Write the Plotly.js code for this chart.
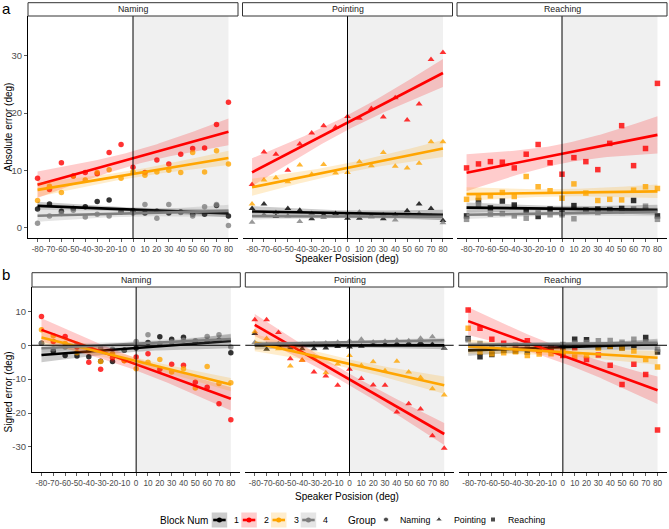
<!DOCTYPE html>
<html><head><meta charset="utf-8">
<script src="https://cdn.plot.ly/plotly-3.0.1.min.js"></script>
<style>html,body{margin:0;padding:0;background:#fff}</style>
</head><body><div id="chart" style="width:669px;height:529px"></div>
<script>
// ---------------- data ----------------
const XPOS = [-80,-70,-60,-50,-40,-30,-20,-10,0,10,20,30,40,50,60,70,80];
const GROUPS = ['Naming','Pointing','Reaching'];
const BLOCKS = ['1','2','3','4'];
const BLOCK_COLORS = ['#000000','#FF0000','#FFA500','#7F7F7F'];
const BAND_COLORS = ['rgba(0,0,0,0.2)','rgba(255,0,0,0.2)','rgba(255,165,0,0.2)','rgba(127,127,127,0.2)'];
const GROUP_SYMBOLS = ['circle','triangle-up','square'];
const ABS_TICKS = [0,10,20,30];
const SIGNED_TICKS = [-30,-20,-10,0,10];

// Absolute error (panel a)
const absNaming1 = [3.2,4.1,2.8,3.3,3.6,4.5,4.8,2.7,2.9,2.5,2.8,2.5,2.7,2.3,2.3,3.8,2.0];
const absNaming2 = [8.6,6.6,11.3,9.0,9.6,9.4,13.1,14.5,10.5,9.6,11.8,11.1,12.8,13.8,13.9,18.0,21.9];
const absNaming3 = [4.7,7.2,6.1,9.0,8.3,9.6,10.1,8.6,9.7,9.1,9.7,10.0,9.6,13.1,9.7,13.4,11.1];
const absNaming4 = [0.7,2.0,2.4,3.0,1.8,2.3,2.0,2.8,2.5,4.0,1.6,4.0,2.6,2.0,3.6,4.0,0.3];
const absPointing1 = [3.3,4.1,1.9,3.3,3.0,1.5,2.2,2.4,1.6,1.6,2.0,1.5,2.2,2.9,4.1,3.3,1.2];
const absPointing2 = [7.5,13.2,12.8,10.0,14.6,16.5,17.8,17.5,19.4,19.1,20.8,19.3,22.7,18.8,21.6,29.4,30.6];
const absPointing3 = [4.1,8.3,8.7,8.0,10.9,9.3,11.0,9.5,9.6,11.5,10.8,13.1,10.7,10.4,11.2,15.0,15.0];
const absPointing4 = [0.9,2.2,2.6,2.0,1.0,2.4,1.7,2.0,2.2,2.7,1.8,2.2,1.3,2.0,2.4,2.0,0.8];
const absReaching1 = [2.0,4.7,3.4,4.6,3.9,3.0,1.9,3.2,2.5,3.8,3.0,3.2,3.1,3.3,4.7,3.0,2.0];
const absReaching2 = [10.4,11.1,11.5,11.4,10.4,12.8,14.5,11.3,9.3,12.2,11.5,10.1,14.7,17.8,10.8,13.8,25.2];
const absReaching3 = [4.9,5.2,5.5,6.1,5.4,8.9,7.1,6.4,5.1,7.6,6.0,4.7,4.9,4.8,6.5,7.1,6.8];
const absReaching4 = [1.4,4.0,2.3,2.4,2.0,1.6,2.5,2.2,2.2,1.5,2.8,2.6,3.0,2.9,3.2,3.7,1.4];

// Signed error (panel b)
const sgnNaming1 = [0.6,-1.8,-3.0,-3.2,-3.4,-4.7,-4.8,-1.5,-0.8,0.8,2.5,1.8,2.4,0.9,1.2,1.5,-2.2];
const sgnNaming2 = [8.5,1.1,2.6,-0.5,-5.0,-7.1,-3.7,-4.5,-3.5,-2.5,-7.1,-5.6,-5.9,-10.9,-12.4,-17.3,-22.0];
const sgnNaming3 = [4.6,2.8,0.5,-2.2,-1.0,-4.8,-2.5,-4.6,-6.9,-5.0,-4.2,-7.9,-6.9,-12.6,-6.3,-11.3,-11.1];
const sgnNaming4 = [0.6,-1.0,-0.5,0.2,-1.5,-0.8,-1.2,-1.4,1.1,3.1,0.5,1.0,1.5,1.3,2.6,3.1,-0.5];
const sgnPointing1 = [3.5,-1.2,-0.3,-0.8,-1.0,-1.0,-0.8,-0.4,-0.5,-0.3,0.2,0.3,0.5,0.6,0.8,0.3,-0.9];
const sgnPointing2 = [7.5,7.5,3.8,-4.0,-4.4,-7.9,-9.1,-11.8,-7.1,-9.8,-11.7,-11.8,-19.7,-17.3,-18.8,-26.7,-30.4];
const sgnPointing3 = [4.0,2.0,-1.0,-6.1,-4.4,-3.5,-8.1,-5.5,-3.0,-6.0,-4.9,-7.5,-4.7,-7.9,-9.5,-12.8,-14.7];
const sgnPointing4 = [0.8,0.2,0.5,-0.3,0.3,0.5,0.7,0.9,1.3,1.8,1.0,1.2,1.5,1.3,2.1,2.5,-0.9];
const sgnReaching1 = [2.0,-3.4,-2.7,-1.5,-1.8,-2.0,-1.4,-0.8,-0.5,1.8,1.6,-0.5,-0.3,-0.8,0.0,2.3,-2.0];
const sgnReaching2 = [10.4,5.0,1.8,0.6,-1.0,1.3,-1.5,-1.4,-3.0,-0.7,-4.2,-2.9,-5.9,-11.6,-5.6,-8.6,-25.0];
const sgnReaching3 = [5.0,-2.0,-2.5,-2.2,-1.9,-3.0,-2.6,-2.5,-2.0,-3.5,-3.0,-0.9,-0.4,-0.8,-1.7,-4.2,-6.4];
const sgnReaching4 = [1.6,0.5,-0.5,-0.2,0.0,-0.5,-0.3,-0.3,0.2,0.6,0.8,1.3,1.4,0.9,1.8,1.0,-1.2];

const ABS_DATA = [[absNaming1,absNaming2,absNaming3,absNaming4],[absPointing1,absPointing2,absPointing3,absPointing4],[absReaching1,absReaching2,absReaching3,absReaching4]];
const SGN_DATA = [[sgnNaming1,sgnNaming2,sgnNaming3,sgnNaming4],[sgnPointing1,sgnPointing2,sgnPointing3,sgnPointing4],[sgnReaching1,sgnReaching2,sgnReaching3,sgnReaching4]];

// ---------------- helpers ----------------
const W = 669, H = 529;
const FONT = 'Liberation Sans, Arial, sans-serif';
const px = v => v / W;
const py = v => 1 - v / H;

function lmBand(x, y) {
  const n = x.length;
  const xb = x.reduce((a,b)=>a+b,0)/n, yb = y.reduce((a,b)=>a+b,0)/n;
  let sxx=0, sxy=0;
  for (let i=0;i<n;i++){ sxx += (x[i]-xb)**2; sxy += (x[i]-xb)*(y[i]-yb); }
  const b = sxy/sxx, a = yb - b*xb;
  let sse = 0;
  for (let i=0;i<n;i++){ sse += (y[i]-(a+b*x[i]))**2; }
  const s = Math.sqrt(sse/(n-2));
  const t = 2.131; // t(0.975, df=15)
  const gx=[], gy=[], lo=[], hi=[];
  const xmin = Math.min(...x), xmax = Math.max(...x);
  for (let k=0;k<=80;k++){
    const xx = xmin + (xmax-xmin)*k/80;
    const f = a + b*xx;
    const se = s*Math.sqrt(1/n + (xx-xb)**2/sxx);
    gx.push(xx); gy.push(f); lo.push(f - t*se); hi.push(f + t*se);
  }
  return {gx, gy, lo, hi};
}

// ---------------- layout geometry ----------------
const ROW_X = [
  [[28,238],[242.5,452.5],[457,667]],
  [[32,240.3],[245.3,453.7],[458.7,667]]
];
const ROW_Y = [[16,238],[287,472.3]];
const STRIP_Y = [[2.7,16],[272.7,287]];
const ROW_RANGE = [[-1.87,37.0],[-37.5,17.2]];
const ROW_TICKS = [ABS_TICKS, SIGNED_TICKS];
const ROW_YTITLE = ['Absolute error (deg)','Signed error (deg)'];
const ROW_LETTER = ['a','b'];

const traces = [];
const layout = {
  width: W, height: H, margin:{l:0,r:0,t:0,b:0},
  paper_bgcolor:'#ffffff', plot_bgcolor:'rgba(0,0,0,0)',
  showlegend:false, font:{family:FONT, color:'#000'},
  shapes:[], annotations:[]
};

for (let r=0;r<2;r++){
  const DATA = r===0 ? ABS_DATA : SGN_DATA;
  for (let c=0;c<3;c++){
    const idx = r*3+c+1;
    const ax = idx===1 ? '' : String(idx);
    const [x0,x1] = ROW_X[r][c];
    const [yt,yb] = ROW_Y[r];
    layout['xaxis'+ax] = {
      domain:[px(x0),px(x1)], range:[-88,88], anchor:'y'+ax,
      tickvals:XPOS, ticktext:XPOS.map(String), ticks:'outside', ticklen:3, tickangle:0,
      tickcolor:'#333333', tickwidth:0.8, showline:true, linecolor:'#000', linewidth:1,
      showgrid:false, zeroline:false, tickfont:{size:8.2, color:'#4D4D4D', family:FONT},
      fixedrange:true
    };
    layout['yaxis'+ax] = {
      domain:[py(yb),py(yt)], range:ROW_RANGE[r], anchor:'x'+ax,
      tickvals:ROW_TICKS[r], ticktext:ROW_TICKS[r].map(String),
      ticks: c===0 ? 'outside' : '', ticklen:3, tickcolor:'#333333', tickwidth:0.8,
      showticklabels: c===0, showline: c===0, linecolor:'#000', linewidth:1,
      showgrid:false, zeroline:false, tickfont:{size:9.5, color:'#4D4D4D', family:FONT},
      fixedrange:true
    };
    // shaded region x in [0,80]
    layout.shapes.push({type:'rect', xref:'x'+ax, yref:'y'+ax+' domain', x0:0, x1:80, y0:0, y1:1,
      fillcolor:'#F0F0F0', line:{width:0}, layer:'below'});
    // vertical line at 0
    layout.shapes.push({type:'line', xref:'x'+ax, yref:'y'+ax+' domain', x0:0, x1:0, y0:0, y1:1,
      line:{color:'#000', width:1}});
    if (r===1){
      layout.shapes.push({type:'line', xref:'x'+ax+' domain', yref:'y'+ax, x0:0, x1:1, y0:0, y1:0,
        line:{color:'#000', width:1}});
    }
    // points
    for (let b=0;b<4;b++){
      traces.push({type:'scatter', mode:'markers', x:XPOS, y:DATA[c][b], xaxis:'x'+ax, yaxis:'y'+ax,
        marker:{symbol:GROUP_SYMBOLS[c], size: c===1 ? 6 : 5.5, color:BLOCK_COLORS[b], opacity:0.8, line:{width:0}},
        hoverinfo:'skip'});
    }
    // smooth
    for (let b=0;b<4;b++){
      const f = lmBand(XPOS, DATA[c][b]);
      traces.push({type:'scatter', mode:'lines', x:f.gx.concat(f.gx.slice().reverse()),
        y:f.hi.concat(f.lo.slice().reverse()), fill:'toself', fillcolor:BAND_COLORS[b],
        line:{width:0}, xaxis:'x'+ax, yaxis:'y'+ax, hoverinfo:'skip'});
      traces.push({type:'scatter', mode:'lines', x:f.gx, y:f.gy, line:{color:BLOCK_COLORS[b], width:2.6},
        xaxis:'x'+ax, yaxis:'y'+ax, hoverinfo:'skip'});
    }
    // strip
    layout.shapes.push({type:'rect', xref:'x7', yref:'y7', x0:x0, x1:x1, y0:STRIP_Y[r][0], y1:STRIP_Y[r][1],
      fillcolor:'#ffffff', line:{color:'#333333', width:1}});
    layout.annotations.push({xref:'x7', yref:'y7', x:(x0+x1)/2, y:(STRIP_Y[r][0]+STRIP_Y[r][1])/2,
      text:GROUPS[c], showarrow:false, xanchor:'center', yanchor:'middle',
      font:{size:8.8, color:'#1A1A1A', family:FONT}});
  }
  // axis titles
  layout.annotations.push({xref:'x7', yref:'y7', x:347, y: r===0 ? 258 : 496, text:'Speaker Posision (deg)',
    showarrow:false, xanchor:'center', yanchor:'middle', font:{size:10, color:'#000', family:FONT}});
  layout.annotations.push({xref:'x7', yref:'y7', x:7.5, y: r===0 ? 127 : 392, text:ROW_YTITLE[r], textangle:-90,
    showarrow:false, xanchor:'center', yanchor:'middle', font:{size:10, color:'#000', family:FONT}});
  layout.annotations.push({xref:'x7', yref:'y7', x:0, y: r===0 ? 8.5 : 274.5, text:ROW_LETTER[r],
    showarrow:false, xanchor:'left', yanchor:'middle', font:{size:15, color:'#000', family:FONT}});
}

// overlay axis in pixel units for strips / legend
layout.xaxis7 = {domain:[0,1], range:[0,W], visible:false, fixedrange:true, anchor:'y7'};
layout.yaxis7 = {domain:[0,1], range:[H,0], visible:false, fixedrange:true, anchor:'x7'};

// ---------------- legend (drawn) ----------------
const LEG_Y = 520;
layout.annotations.push({xref:'x7', yref:'y7', x:158, y:LEG_Y, text:'Block Num', showarrow:false,
  xanchor:'left', yanchor:'middle', font:{size:10, color:'#000', family:FONT}});
const keyX = [211.7, 241.3, 271, 300.7];
const keyMx = [], keyMy = [], keyMc = [];
for (let b=0;b<4;b++){
  const kx = keyX[b];
  layout.shapes.push({type:'rect', xref:'x7', yref:'y7', x0:kx, x1:kx+15.5, y0:LEG_Y-7.5, y1:LEG_Y+7.5,
    fillcolor:BAND_COLORS[b], line:{width:0}});
  layout.shapes.push({type:'line', xref:'x7', yref:'y7', x0:kx+1.5, x1:kx+14, y0:LEG_Y, y1:LEG_Y,
    line:{color:BLOCK_COLORS[b], width:2.6}});
  keyMx.push(kx+7.75); keyMy.push(LEG_Y); keyMc.push(BLOCK_COLORS[b]);
  layout.annotations.push({xref:'x7', yref:'y7', x:kx+20.5, y:LEG_Y, text:BLOCKS[b], showarrow:false,
    xanchor:'left', yanchor:'middle', font:{size:8.8, color:'#000', family:FONT}});
}
traces.push({type:'scatter', mode:'markers', x:keyMx, y:keyMy, xaxis:'x7', yaxis:'y7',
  marker:{symbol:'circle', size:5, color:keyMc}, hoverinfo:'skip'});

layout.annotations.push({xref:'x7', yref:'y7', x:346, y:LEG_Y, text:'Group', showarrow:false,
  xanchor:'left', yanchor:'middle', font:{size:10, color:'#000', family:FONT}});
const grpMarkX = [386, 439, 493];
const grpTextX = [398, 452, 506];
traces.push({type:'scatter', mode:'markers', x:grpMarkX, y:[LEG_Y-0.5,LEG_Y-0.5,LEG_Y-0.5], xaxis:'x7', yaxis:'y7',
  marker:{symbol:GROUP_SYMBOLS, size:[5,6,5], color:'#000'}, hoverinfo:'skip'});
for (let g=0;g<3;g++){
  layout.annotations.push({xref:'x7', yref:'y7', x:grpTextX[g], y:LEG_Y, text:GROUPS[g], showarrow:false,
    xanchor:'left', yanchor:'middle', font:{size:8.8, color:'#000', family:FONT}});
}

Plotly.newPlot('chart', traces, layout, {staticPlot:true, displayModeBar:false});
</script>
</body></html>
